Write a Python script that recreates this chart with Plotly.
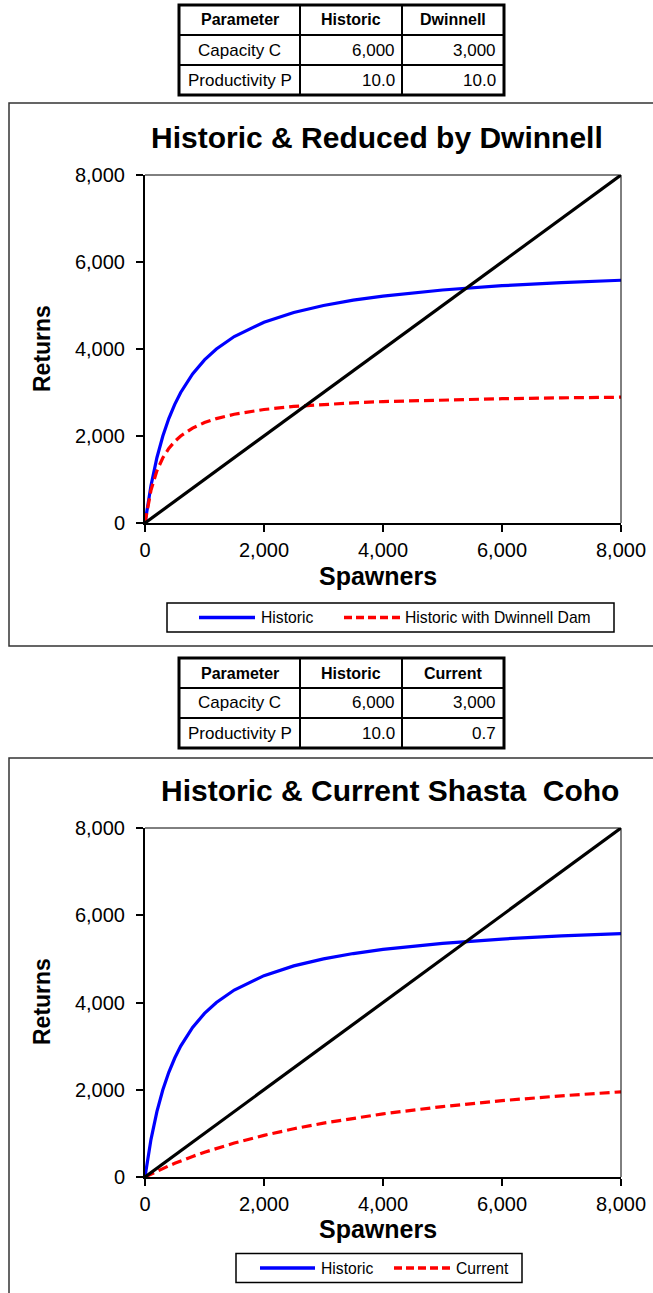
import plotly.graph_objects as go

W, H = 653, 1293
FONT = "Arial, Liberation Sans, sans-serif"

# ---------------- data ----------------
spawners = [0, 100, 200, 300, 400, 500, 600, 800, 1000, 1200, 1500, 2000,
            2500, 3000, 3500, 4000, 5000, 6000, 7000, 8000]
historic = [0, 857, 1500, 2000, 2400, 2727, 3000, 3429, 3750, 4000, 4286, 4615,
            4839, 5000, 5122, 5217, 5357, 5455, 5526, 5581]
dwinnell = [0, 750, 1200, 1500, 1714, 1875, 2000, 2182, 2308, 2400, 2500, 2609,
            2679, 2727, 2763, 2791, 2830, 2857, 2877, 2892]
current = [0, 68, 134, 196, 256, 313, 368, 472, 568, 656, 778, 955,
           1105, 1235, 1349, 1448, 1615, 1750, 1861, 1953]
replacement_x = [0, 8000]
replacement_y = [0, 8000]

tick_vals = [0, 2000, 4000, 6000, 8000]

table1_header = ["Parameter", "Historic", "Dwinnell"]
table1_rows = [["Capacity C", "6,000", "3,000"],
               ["Productivity P", "10.0", "10.0"]]
table2_header = ["Parameter", "Historic", "Current"]
table2_rows = [["Capacity C", "6,000", "3,000"],
               ["Productivity P", "10.0", "0.7"]]

title1 = "Historic & Reduced by Dwinnell"
title2 = "Historic & Current Shasta  Coho"
legend1 = ["Historic", "Historic with Dwinnell Dam"]
legend2 = ["Historic", "Current"]

# ---------------- helpers ----------------
def px(x):
    return x / W

def py(y):
    return 1 - y / H

BLUE = "#0000FF"
RED = "#FF0000"
DASH = "10px,5px"
LW = 3.2

fig = go.Figure()

# chart 1 traces
fig.add_trace(go.Scatter(x=spawners, y=historic, mode="lines", name=legend1[0],
                         line=dict(color=BLUE, width=LW), showlegend=False,
                         xaxis="x", yaxis="y"))
fig.add_trace(go.Scatter(x=spawners, y=dwinnell, mode="lines", name=legend1[1],
                         line=dict(color=RED, width=LW, dash=DASH), showlegend=False,
                         xaxis="x", yaxis="y"))
fig.add_trace(go.Scatter(x=replacement_x, y=replacement_y, mode="lines", name="Replacement",
                         line=dict(color="black", width=LW), showlegend=False,
                         xaxis="x", yaxis="y"))
# chart 2 traces
fig.add_trace(go.Scatter(x=spawners, y=historic, mode="lines", name=legend2[0],
                         line=dict(color=BLUE, width=LW), showlegend=False,
                         xaxis="x2", yaxis="y2"))
fig.add_trace(go.Scatter(x=spawners, y=current, mode="lines", name=legend2[1],
                         line=dict(color=RED, width=LW, dash=DASH), showlegend=False,
                         xaxis="x2", yaxis="y2"))
fig.add_trace(go.Scatter(x=replacement_x, y=replacement_y, mode="lines", name="Replacement",
                         line=dict(color="black", width=LW), showlegend=False,
                         xaxis="x2", yaxis="y2"))

PLOT_L, PLOT_R = 145, 621
P1_T, P1_B = 175, 523
P2_T, P2_B = 828, 1177

axis_common = dict(range=[0, 8000], tickvals=tick_vals, tickformat=",",
                   showgrid=False, zeroline=False, showline=True, linecolor="black",
                   linewidth=2, ticks="outside", ticklen=7, tickwidth=1.5,
                   tickcolor="black", automargin=False,
                   tickfont=dict(family=FONT, size=20, color="black"))

fig.update_layout(
    width=W, height=H, margin=dict(l=0, r=0, t=0, b=0, autoexpand=False),
    paper_bgcolor="white", plot_bgcolor="white", showlegend=False,
    xaxis=dict(domain=[px(PLOT_L), px(PLOT_R)], anchor="y", ticklabelstandoff=1, **axis_common),
    yaxis=dict(domain=[py(P1_B), py(P1_T)], anchor="x", ticklabelstandoff=7, **axis_common),
    xaxis2=dict(domain=[px(PLOT_L), px(PLOT_R)], anchor="y2", ticklabelstandoff=1, **axis_common),
    yaxis2=dict(domain=[py(P2_B), py(P2_T)], anchor="x2", ticklabelstandoff=7, **axis_common),
)

shapes = []
annotations = []

def rect(x0, y0, x1, y1, width, color="black"):
    shapes.append(dict(type="rect", xref="paper", yref="paper",
                       x0=px(x0), x1=px(x1), y0=py(y0), y1=py(y1),
                       line=dict(color=color, width=width), fillcolor="rgba(0,0,0,0)",
                       layer="above"))

def hline(x0, x1, y, width, color="black", dash=None):
    ln = dict(color=color, width=width)
    if dash:
        ln["dash"] = dash
    shapes.append(dict(type="line", xref="paper", yref="paper",
                       x0=px(x0), x1=px(x1), y0=py(y), y1=py(y), line=ln, layer="above"))

def vline(x, y0, y1, width, color="black"):
    shapes.append(dict(type="line", xref="paper", yref="paper",
                       x0=px(x), x1=px(x), y0=py(y0), y1=py(y1),
                       line=dict(color=color, width=width), layer="above"))

def text(x, y, s, size, bold=False, xanchor="center", angle=0):
    annotations.append(dict(xref="paper", yref="paper", x=px(x), y=py(y),
                            text=f"<b>{s}</b>" if bold else s, showarrow=False,
                            xanchor=xanchor, yanchor="middle", textangle=angle,
                            font=dict(family=FONT, size=size, color="black")))

# chart frames
rect(9, 103, 700, 646, 1.5, "#333333")
rect(9, 758, 700, 1340, 1.5, "#333333")

# thin top/right plot borders
for (t, b) in [(P1_T, P1_B), (P2_T, P2_B)]:
    hline(PLOT_L, PLOT_R, t, 1)
    vline(PLOT_R, t, b, 1)

# tables
def table(top, header, rows):
    cols = [179, 300, 402, 504]
    rh = 30
    ys = [top + i * rh for i in range(4)]
    for y in ys[1:3]:
        hline(cols[0], cols[3], y, 2)
    for x in cols[1:3]:
        vline(x, ys[0], ys[3], 2)
    rect(cols[0], ys[0], cols[3], ys[3], 3)
    for j, h in enumerate(header):
        text((cols[j] + cols[j + 1]) / 2, ys[0] + rh / 2, h, 16, bold=True)
    for i, row in enumerate(rows):
        yc = ys[i + 1] + rh / 2
        text((cols[0] + cols[1]) / 2, yc, row[0], 17)
        text(cols[2] - 5, yc, row[1], 17, xanchor="right")
        text(cols[3] - 6, yc, row[2], 17, xanchor="right")

table(5, table1_header, table1_rows)
table(658, table2_header, table2_rows)

# titles & axis titles
text(377, 138, title1, 30, bold=True)
text(390, 790, title2, 30, bold=True)
text(42, 349, "Returns", 23, bold=True, angle=-90)
text(42, 1002, "Returns", 23, bold=True, angle=-90)
text(378, 576, "Spawners", 25, bold=True)
text(378, 1229, "Spawners", 25, bold=True)

# manual legends
def legend(box, yc, items):
    rect(box[0], yc - 14.5, box[1], yc + 14.5, 1.5)
    for (x0, x1, tx, label, color, dash) in items:
        hline(x0, x1, yc, 3.5, color, dash)
        text(tx, yc, label, 15.7, xanchor="left")

legend((167, 614), 617.5, [
    (199, 255, 259, legend1[0], BLUE, None),
    (344, 400, 403, legend1[1], RED, "8px,4px"),
])
legend((236, 522), 1268, [
    (260, 315, 319, legend2[0], BLUE, None),
    (394, 450, 454, legend2[1], RED, "8px,4px"),
])

fig.update_layout(shapes=shapes, annotations=annotations)

fig.write_html("out.html", config={"displayModeBar": False},
               post_script="document.body.style.margin='0';document.body.style.overflow='hidden';")
